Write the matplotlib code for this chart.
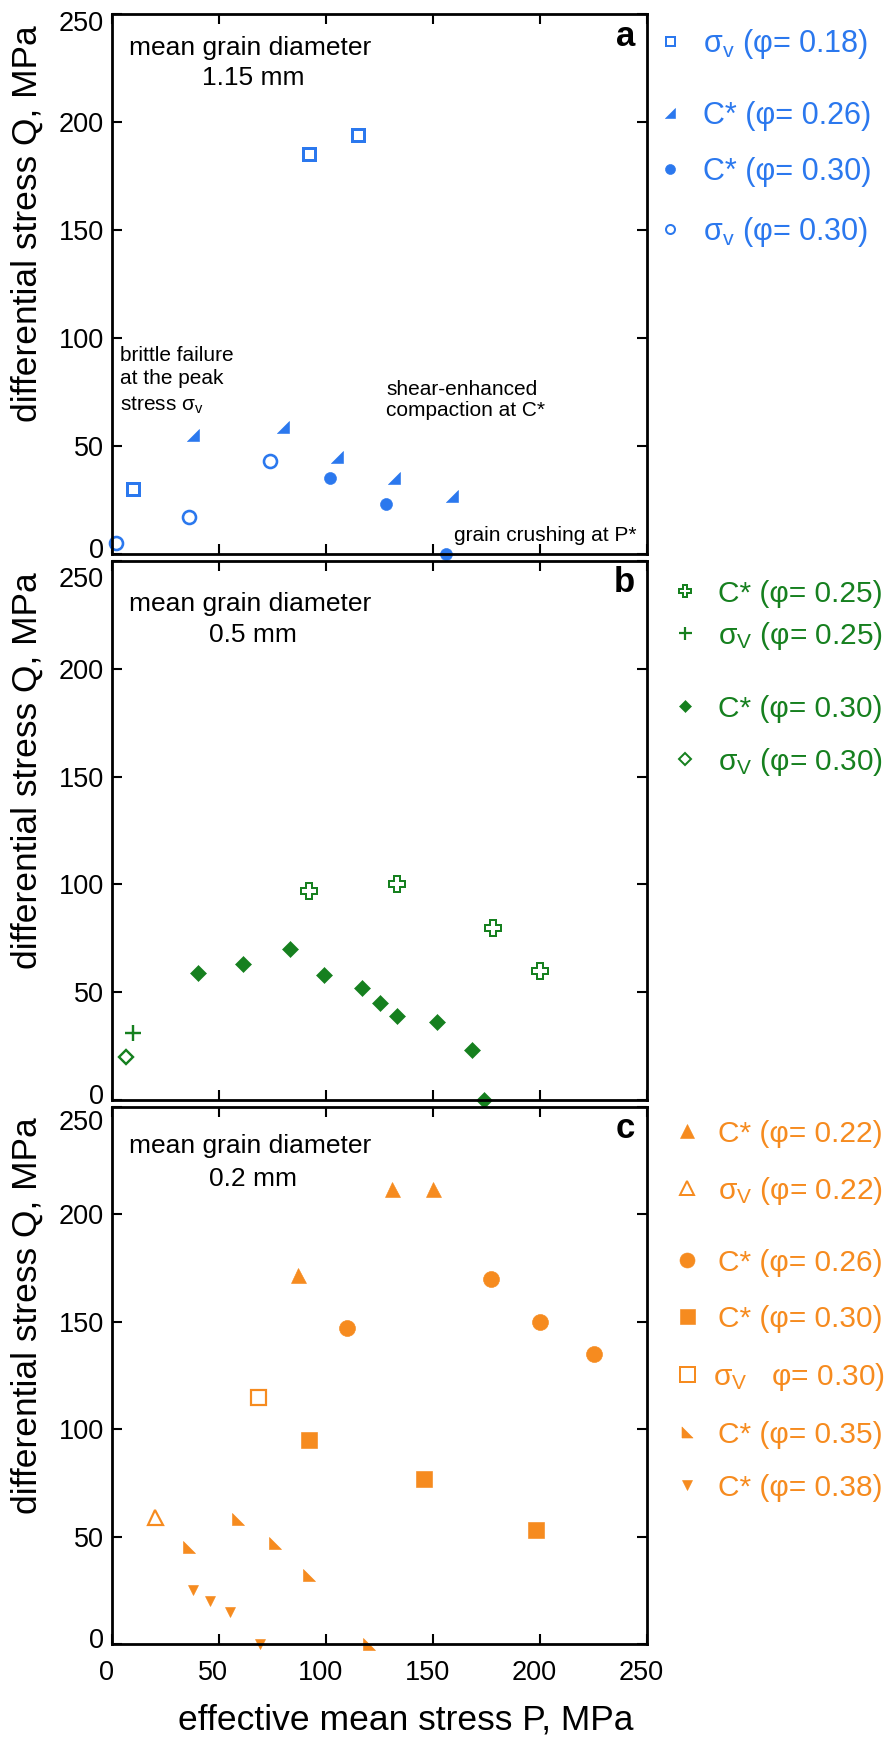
import matplotlib
matplotlib.use("Agg")
import matplotlib.pyplot as plt
from matplotlib.lines import Line2D
from matplotlib.transforms import ScaledTranslation

plt.rcParams['font.family'] = ['Liberation Sans', 'DejaVu Sans']
plt.rcParams['mathtext.fontset'] = 'custom'
plt.rcParams['mathtext.rm'] = 'Liberation Sans'
plt.rcParams['mathtext.it'] = 'Liberation Sans:italic'
plt.rcParams['mathtext.bf'] = 'Liberation Sans:bold'

W, H = 888, 1739
BLUE, GREEN, ORANGE = '#2b78ee', '#16801f', '#f68b1f'

# effective mean stress P (MPa) and differential stress Q (MPa)
# a) mean grain diameter 1.15 mm
a_sv018_P = [10, 92, 115]
a_sv018_Q = [30, 185, 194]
a_c026_P = [38, 80, 105, 132, 159]
a_c026_Q = [55, 59, 45, 35, 27]
a_c030_P = [102, 128, 156]
a_c030_Q = [35, 23, 0]
a_sv030_P = [2, 36, 74]
a_sv030_Q = [5, 17, 43]

# b) mean grain diameter 0.5 mm
b_c025_P = [92, 133, 178, 200]
b_c025_Q = [97, 100, 80, 60]
b_sv025_P = [10]
b_sv025_Q = [31]
b_c030_P = [40, 61, 83, 99, 117, 125, 133, 152, 168, 174]
b_c030_Q = [59, 63, 70, 58, 52, 45, 39, 36, 23, 0]
b_sv030_P = [6.5]
b_sv030_Q = [20]

# c) mean grain diameter 0.2 mm
c_c022_P = [87, 131, 150]
c_c022_Q = [172, 212, 212]
c_sv022_P = [20]
c_sv022_Q = [59]
c_c026_P = [110, 177, 200, 225]
c_c026_Q = [147, 170, 150, 135]
c_c030_P = [92, 146, 198]
c_c030_Q = [95, 77, 53]
c_sv030_P = [68]
c_sv030_Q = [115]
c_c035_P = [36, 59, 76, 92, 120]
c_c035_Q = [45, 58, 47, 32, 0]
c_c038_P = [38, 46, 55, 69]
c_c038_Q = [25, 20, 15, 0]

ticks = [0, 50, 100, 150, 200, 250]

RT_BR = [(-1, -1), (1, -1), (1, 1), (-1, -1)]   # right angle bottom right
RT_BL = [(-1, -1), (1, -1), (-1, 1), (-1, -1)]  # right angle bottom left


def mk(marker, px, color, hollow=False, edge_px=None):
    if edge_px is None:
        edge_px = 2.4 if hollow else 0.6
    return dict(marker=marker, markersize=px * 0.72, markeredgecolor=color,
                markerfacecolor='white' if hollow else color,
                markeredgewidth=edge_px * 0.72, linestyle='none')


def px_rect(left, top, right, bottom):
    return [left / W, 1 - bottom / H, (right - left) / W, (bottom - top) / H]


fig = plt.figure(figsize=(W / 100, H / 100), dpi=100)


def setup_axes(rect, letter, size_txt, q1, q2, top_shift, show_x):
    ax = fig.add_axes(px_rect(*rect))
    ax.set_xlim(0, 250)
    ax.set_ylim(0, 250)
    ax.set_xticks(ticks)
    ax.set_yticks(ticks)
    ax.tick_params(direction='in', length=7, width=1.5, top=True, right=True,
                   labelsize=19.5, pad=6)
    ax.tick_params(axis='x', pad=11.5, labelbottom=show_x)
    for s in ax.spines.values():
        s.set_linewidth(2)
    yt = ax.yaxis.get_major_ticks()
    yt[0].label1.set_transform(yt[0].label1.get_transform() +
                               ScaledTranslation(0, 0.06, fig.dpi_scale_trans))
    yt[-1].label1.set_transform(yt[-1].label1.get_transform() +
                                ScaledTranslation(0, -top_shift / 100, fig.dpi_scale_trans))
    if show_x:
        for t in ax.xaxis.get_major_ticks():
            t.label1.set_transform(t.label1.get_transform() +
                                   ScaledTranslation(-0.06, 0, fig.dpi_scale_trans))
    ax.text(-0.159, 0.612, 'differential stress Q, MPa', transform=ax.transAxes,
            rotation=90, ha='center', va='center', fontsize=25.5)
    ax.text(7.8, q1, 'mean grain diameter', ha='left', va='baseline', fontsize=19)
    ax.text(65.8, q2, size_txt, ha='center', va='baseline', fontsize=19)
    ax.text(0.978, 1 - 22 / 540, letter, transform=ax.transAxes, ha='right',
            va='center', fontsize=25, fontweight='bold')
    return ax


def legend_row(style, label, xm, xt, y, color, fs):
    fig.add_artist(Line2D([xm / W], [1 - y / H], transform=fig.transFigure, **style))
    fig.text(xt / W, 1 - (y + 0.36 * fs / 0.72) / H, label, color=color,
             fontsize=fs, ha='left', va='baseline')


# ---- panel a
ax = setup_axes((112, 14, 647, 554), 'a', '1.15 mm', 231, 217, 7, False)
ax.plot(a_sv018_P, a_sv018_Q, clip_on=False, **mk('s', 12, BLUE, True, 3))
ax.plot(a_c026_P, a_c026_Q, clip_on=False, **mk(RT_BR, 12, BLUE))
ax.plot(a_c030_P, a_c030_Q, clip_on=False, **mk('o', 12, BLUE))
ax.plot(a_sv030_P, a_sv030_Q, clip_on=False, **mk('o', 13, BLUE, True, 2.6))
ax.text(3.6, 89.4, 'brittle failure', fontsize=15)
ax.text(3.6, 78.6, 'at the peak', fontsize=15)
ax.text(3.6, 66.2, r'stress $\mathregular{σ_v}$', fontsize=15)
ax.text(128.2, 73.7, 'shear-enhanced', fontsize=15)
ax.text(128.2, 63.7, 'compaction at C*', fontsize=15)
ax.text(160, 5.8, 'grain crushing at P*', fontsize=15)

legend_row(mk('s', 9, BLUE, True, 2), r'$\mathregular{σ_v}$ (φ= 0.18)', 670, 703, 41, BLUE, 22)
legend_row(mk(RT_BR, 10, BLUE), 'C* (φ= 0.26)', 670, 703, 113, BLUE, 22)
legend_row(mk('o', 10, BLUE), 'C* (φ= 0.30)', 670, 703, 169, BLUE, 22)
legend_row(mk('o', 9, BLUE, True, 2), r'$\mathregular{σ_v}$ (φ= 0.30)', 670, 703, 229, BLUE, 22)

# ---- panel b
ax = setup_axes((112, 561, 647, 1100), 'b', '0.5 mm', 227, 212.5, 16, False)
ax.plot(b_c025_P, b_c025_Q, clip_on=False, **mk('P', 16, GREEN, True, 2))
ax.plot(b_sv025_P, b_sv025_Q, clip_on=False, **mk('+', 16, GREEN, False, 2.4))
ax.plot(b_c030_P, b_c030_Q, clip_on=False, **mk('D', 11, GREEN))
ax.plot(b_sv030_P, b_sv030_Q, clip_on=False, **mk('D', 10.5, GREEN, True, 2.4))

legend_row(mk('P', 12, GREEN, True, 2), 'C* (φ= 0.25)', 685, 718, 591, GREEN, 21.5)
legend_row(mk('+', 13, GREEN, False, 2.2), r'$\mathregular{σ_V}$ (φ= 0.25)', 685, 718, 633, GREEN, 21.5)
legend_row(mk('D', 8.5, GREEN), 'C* (φ= 0.30)', 685, 718, 706, GREEN, 21.5)
legend_row(mk('D', 8, GREEN, True, 2), r'$\mathregular{σ_V}$ (φ= 0.30)', 685, 718, 759, GREEN, 21.5)

# ---- panel c
ax = setup_axes((112, 1107, 647, 1644), 'c', '0.2 mm', 228.4, 213.4, 13, True)
ax.plot(c_c022_P, c_c022_Q, clip_on=False, **mk('^', 15, ORANGE))
ax.plot(c_sv022_P, c_sv022_Q, clip_on=False, **mk('^', 15, ORANGE, True, 2.2))
ax.plot(c_c026_P, c_c026_Q, clip_on=False, **mk('o', 16, ORANGE))
ax.plot(c_c030_P, c_c030_Q, clip_on=False, **mk('s', 16, ORANGE))
ax.plot(c_sv030_P, c_sv030_Q, clip_on=False, **mk('s', 15, ORANGE, True, 2.2))
ax.plot(c_c035_P, c_c035_Q, clip_on=False, **mk(RT_BL, 12, ORANGE))
ax.plot(c_c038_P, c_c038_Q, clip_on=False, **mk('v', 10, ORANGE))

legend_row(mk('^', 14, ORANGE), 'C* (φ= 0.22)', 687, 718, 1131, ORANGE, 21.5)
legend_row(mk('^', 14, ORANGE, True, 2), r'$\mathregular{σ_V}$ (φ= 0.22)', 687, 718, 1188, ORANGE, 21.5)
legend_row(mk('o', 15, ORANGE), 'C* (φ= 0.26)', 687, 718, 1260, ORANGE, 21.5)
legend_row(mk('s', 15, ORANGE), 'C* (φ= 0.30)', 687, 718, 1316, ORANGE, 21.5)
legend_row(mk('s', 15, ORANGE, True, 2), r'$\mathregular{σ_V}$   φ= 0.30)', 687, 713, 1374, ORANGE, 21.5)
legend_row(mk(RT_BL, 11, ORANGE), 'C* (φ= 0.35)', 687, 718, 1432, ORANGE, 21.5)
legend_row(mk('v', 10, ORANGE), 'C* (φ= 0.38)', 687, 718, 1485, ORANGE, 21.5)

fig.text(406 / W, 1 - 1720 / H, 'effective mean stress P, MPa', ha='center',
         va='center', fontsize=25.5)

fig.savefig('out.png', dpi=100)
